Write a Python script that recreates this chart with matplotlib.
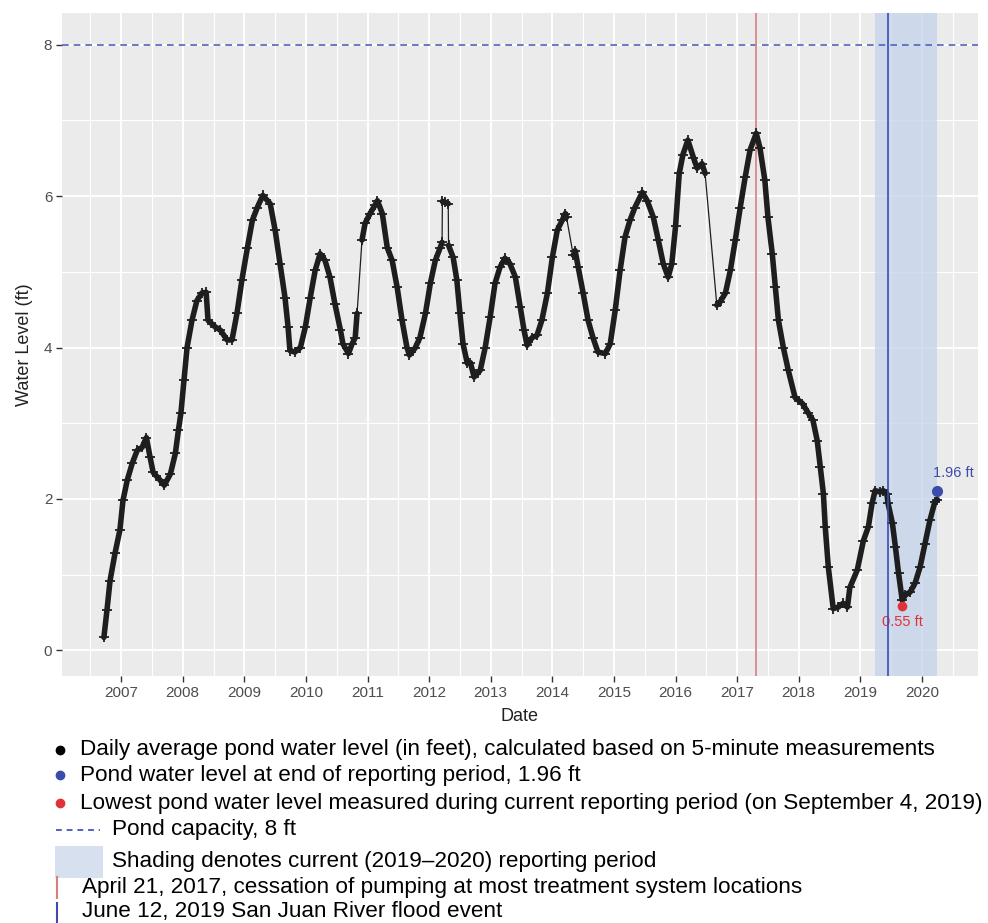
import matplotlib
matplotlib.use("Agg")
import matplotlib.pyplot as plt
import numpy as np
from matplotlib.patches import Rectangle

plt.rcParams["font.family"] = ["Liberation Sans", "DejaVu Sans"]

# daily pond level (decimal year, feet)
years = [2006.72, 2006.77, 2006.82, 2006.90, 2006.98, 2007.03, 2007.10, 2007.18, 2007.26, 2007.34,
         2007.41, 2007.47, 2007.52, 2007.63, 2007.70, 2007.80, 2007.88, 2007.93, 2007.97, 2008.02,
         2008.07, 2008.15, 2008.23, 2008.31, 2008.38, 2008.41, 2008.53, 2008.61, 2008.72, 2008.80,
         2008.88, 2008.96, 2009.05, 2009.13, 2009.21, 2009.30, 2009.42, 2009.50, 2009.58, 2009.66,
         2009.71, 2009.74, 2009.82, 2009.91, 2009.99, 2010.07, 2010.15, 2010.23, 2010.31, 2010.39,
         2010.47, 2010.56, 2010.60, 2010.69, 2010.75, 2010.80, 2010.83,
         2010.91, 2010.96, 2011.04, 2011.12, 2011.16, 2011.24, 2011.32, 2011.40, 2011.48, 2011.56,
         2011.64, 2011.68, 2011.77, 2011.85, 2011.94, 2012.02, 2012.10, 2012.18, 2012.21,
         2012.215, 2012.26, 2012.31, 2012.315,
         2012.39, 2012.45, 2012.50, 2012.55, 2012.62, 2012.67, 2012.73, 2012.83, 2012.91, 2012.99,
         2013.07, 2013.15, 2013.23, 2013.31, 2013.40, 2013.48, 2013.54, 2013.59, 2013.67, 2013.75,
         2013.83, 2013.92, 2014.00, 2014.08, 2014.16, 2014.21, 2014.23,
         2014.34, 2014.37, 2014.42, 2014.50, 2014.58, 2014.66, 2014.74, 2014.86, 2014.94, 2015.02,
         2015.10, 2015.18, 2015.26, 2015.34, 2015.46, 2015.54, 2015.64, 2015.72, 2015.80, 2015.88,
         2015.94, 2016.00, 2016.06, 2016.12, 2016.20, 2016.29, 2016.35, 2016.43, 2016.48,
         2016.67, 2016.72, 2016.81, 2016.89, 2016.97, 2017.05, 2017.13, 2017.21, 2017.31, 2017.37,
         2017.45, 2017.50, 2017.57, 2017.62, 2017.67, 2017.75, 2017.83, 2017.94, 2018.06, 2018.15,
         2018.23, 2018.30, 2018.35, 2018.40, 2018.43, 2018.48, 2018.56, 2018.64, 2018.72, 2018.79,
         2018.83, 2018.95, 2019.05, 2019.13, 2019.19, 2019.24, 2019.32, 2019.37, 2019.43, 2019.45,
         2019.52, 2019.57, 2019.62, 2019.68, 2019.73, 2019.81, 2019.89, 2019.97, 2020.05, 2020.13,
         2020.21, 2020.25]
levels = [0.17, 0.53, 0.92, 1.28, 1.59, 1.98, 2.25, 2.47, 2.64, 2.68,
          2.81, 2.55, 2.35, 2.25, 2.18, 2.33, 2.60, 2.91, 3.13, 3.57,
          4.00, 4.36, 4.62, 4.72, 4.73, 4.36, 4.27, 4.23, 4.10, 4.10,
          4.45, 4.89, 5.32, 5.68, 5.85, 6.01, 5.90, 5.55, 5.11, 4.66,
          4.27, 3.96, 3.94, 4.00, 4.27, 4.66, 5.02, 5.24, 5.15, 4.93,
          4.58, 4.23, 4.05, 3.92, 4.05, 4.13, 4.45,
          5.42, 5.64, 5.77, 5.88, 5.94, 5.77, 5.32, 5.15, 4.80, 4.36,
          4.00, 3.90, 3.99, 4.13, 4.45, 4.85, 5.15, 5.32, 5.39,
          5.93, 5.92, 5.90, 5.35,
          5.19, 4.89, 4.45, 4.05, 3.79, 3.80, 3.61, 3.70, 4.00, 4.40,
          4.85, 5.06, 5.18, 5.11, 4.93, 4.53, 4.23, 4.03, 4.13, 4.16,
          4.36, 4.72, 5.19, 5.55, 5.68, 5.77, 5.72,
          5.22, 5.28, 5.06, 4.72, 4.36, 4.13, 3.94, 3.92, 4.05, 4.49,
          5.02, 5.46, 5.68, 5.85, 6.05, 5.94, 5.72, 5.42, 5.11, 4.93,
          5.11, 5.60, 6.30, 6.55, 6.74, 6.51, 6.37, 6.43, 6.30,
          4.56, 4.60, 4.72, 5.02, 5.42, 5.85, 6.25, 6.61, 6.83, 6.64,
          6.21, 5.72, 5.24, 4.80, 4.36, 4.00, 3.70, 3.34, 3.26, 3.14,
          3.04, 2.77, 2.42, 2.07, 1.63, 1.10, 0.55, 0.57, 0.62, 0.57,
          0.83, 1.06, 1.45, 1.63, 1.94, 2.11, 2.09, 2.11, 2.07, 1.94,
          1.68, 1.36, 1.02, 0.66, 0.73, 0.77, 0.89, 1.10, 1.41, 1.72,
          1.96, 1.99]

# data gaps: segment starting at these dates is only a thin connecting line
gap_starts = [2010.83, 2012.21, 2012.31, 2014.23, 2016.48]

year_ticks = list(range(2007, 2021))
level_ticks = [0, 2, 4, 6, 8]

capacity = 8
pumping_stop = 2017.30      # April 21, 2017
flood_event = 2019.445      # June 12, 2019
period_start, period_end = 2019.24, 2020.25
end_point = (2020.25, 2.10)
end_label = "1.96 ft"
low_point = (2019.68, 0.58)
low_label = "0.55 ft"

legend_texts = [
    "Daily average pond water level (in feet), calculated based on 5-minute measurements",
    "Pond water level at end of reporting period, 1.96 ft",
    "Lowest pond water level measured during current reporting period (on September 4, 2019)",
    "Pond capacity, 8 ft",
    "Shading denotes current (2019\u20132020) reporting period",
    "April 21, 2017, cessation of pumping at most treatment system locations",
    "June 12, 2019 San Juan River flood event",
]

BLUE = "#3b4cad"
RED = "#e0323a"
VRED = "#d97f80"
GRAY = "#4d4d4d"
INK = "#1e1e1e"

fig = plt.figure(figsize=(9.88, 9.23), dpi=100)
ax = fig.add_axes([62 / 988, 1 - 676 / 923, 916 / 988, 663 / 923])
ax.set_facecolor("#ebebeb")
for s in ax.spines.values():
    s.set_visible(False)

ax.set_xlim(2006.04, 2020.91)
ax.set_ylim(-0.34, 8.42)
ax.set_xticks(year_ticks)
ax.set_xticks([y + 0.5 for y in range(2006, 2021)], minor=True)
ax.set_yticks(level_ticks)
ax.set_yticks([1, 3, 5, 7], minor=True)
ax.grid(which="major", color="white", lw=1.3)
ax.grid(which="minor", color="white", lw=0.8)
ax.set_axisbelow(True)
ax.tick_params(which="major", length=4, width=1, color="#333333", labelcolor=GRAY, labelsize=11, pad=3)
ax.tick_params(which="minor", length=0)
ax.set_xlabel("Date", fontsize=13, color="#222222", labelpad=6)
ax.set_ylabel("Water Level (ft)", fontsize=13, color="#222222", labelpad=8)

ax.axvspan(period_start, period_end, color="#c3d4ec", alpha=0.75, lw=0, zorder=1)
ax.axhline(capacity, color="#5263b8", lw=1.2, ls=(0, (4, 3)), zorder=2)
ax.axvline(pumping_stop, color=VRED, lw=1.2, zorder=2)
ax.axvline(flood_event, color=BLUE, lw=1.2, zorder=4)

# thin line through everything, heavy band where data are dense
ax.plot(years, levels, color=INK, lw=0.9, zorder=3)
bx, by = [], []
for i in range(len(years)):
    bx.append(years[i])
    by.append(levels[i])
    if years[i] in gap_starts:
        bx.append(np.nan)
        by.append(np.nan)
ax.plot(bx, by, color=INK, lw=4.0, solid_joinstyle="round", solid_capstyle="round", zorder=3)
ax.plot(years, levels, ls="none", color=INK, marker="+", ms=7, mew=1.3, zorder=3)

ax.plot(*end_point, "o", color=BLUE, ms=7, zorder=5)
ax.text(end_point[0] - 0.07, end_point[1] + 0.15, end_label, color=BLUE, fontsize=10.5, ha="left", va="bottom")
ax.plot(*low_point, "o", color=RED, ms=6, zorder=5)
ax.text(low_point[0], low_point[1] - 0.12, low_label, color=RED, fontsize=10.5, ha="center", va="top")

# legend drawn under the plot, in pixel coordinates
lg = fig.add_axes([0, 0, 1, 190 / 923])
lg.set_xlim(0, 988)
lg.set_ylim(923, 733)
lg.axis("off")
rows = [750, 775, 803, 830, 861, 887, 912]
text_x = [80, 80, 80, 112, 112, 82, 82]
for r, tx, t in zip(rows, text_x, legend_texts):
    lg.text(tx, r, t, fontsize=16.2, ha="left", va="center", color="black")
lg.plot(60, rows[0], "o", color="black", ms=6)
lg.plot(60, rows[1], "o", color=BLUE, ms=6)
lg.plot(60, rows[2], "o", color=RED, ms=6)
lg.plot([56, 100], [rows[3], rows[3]], color="#5263b8", lw=1.4, ls=(0, (3, 2.5)))
lg.add_patch(Rectangle((55, 846), 48, 32, color="#d6e0ee", lw=0))
lg.plot([57, 57], [877, 898], color=VRED, lw=1.5)
lg.plot([57, 57], [903, 923], color=BLUE, lw=1.5)

fig.savefig("out.png", dpi=100)
